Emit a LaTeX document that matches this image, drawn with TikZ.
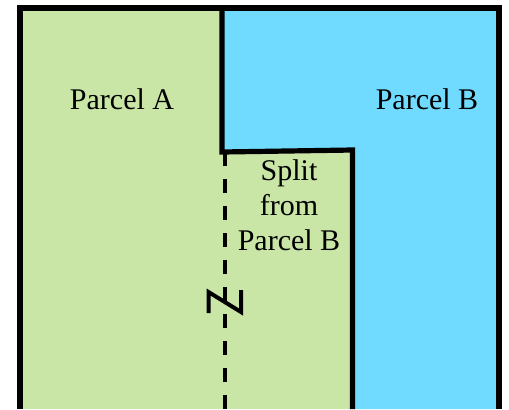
\documentclass[tikz,border=0pt]{standalone}
\usepackage{fontspec}
\setmainfont{Liberation Serif}
\usepackage{tikz}
\usetikzlibrary{calc,positioning}
\definecolor{parcelgreen}{RGB}{201,230,167}
\definecolor{parcelblue}{RGB}{113,218,255}
\tikzset{edgeline/.style={draw=black, line width=3pt}}
\tikzstyle{splitline}=[black, line width=2pt, dash pattern=on 7pt off 6.5pt]
\tikzstyle{lbl}=[inner sep=0pt, font=\fontsize{15}{17.5}\selectfont]

\begin{document}
\begin{tikzpicture}[x=0.5pt, y=-0.5pt]
\useasboundingbox (0,0) rectangle (509,409);
\coordinate (TL) at (20,8);
\coordinate (TR) at (499,8);
\coordinate (BL) at (20,409);
\coordinate (BR) at (499,409);
\coordinate (D0) at (222,8);
\coordinate (D1) at (222,152);
\coordinate (D2) at (352.5,150);
\coordinate (D3) at (352.5,409);
\coordinate (S0) at (225,152);
\coordinate (S1) at (225,409);
% fills
\fill[parcelgreen] (TL) rectangle (BR);
\fill[parcelblue] (D0) -- (TR) -- (BR) -- (D3) -- (D2) -- (D1) -- cycle;
% split line and north sign
\draw[splitline] (S0) -- (S1);
\draw[black, line width=2pt, line join=miter] (208.5,313) -- (208.5,292) -- (241,312) -- (241,290);
% boundaries
\draw[edgeline, line width=2.6pt] (D0) -- (D1) -- (D2) -- (D3);
\draw[edgeline] (BL) -- (TL) -- (TR) -- (BR);
% labels
\node[lbl, anchor=base] (parcelA) at (122,109) {Parcel A};
\node[lbl, anchor=base] (parcelB) at (427,109) {Parcel B};
\node[lbl, align=center, anchor=center] (split) at (289,205) {Split\\from\\Parcel B};
\end{tikzpicture}
\end{document}
